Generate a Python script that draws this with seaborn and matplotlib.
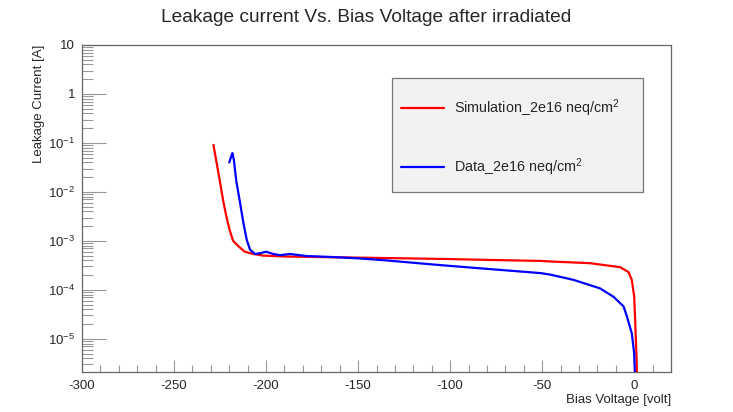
import numpy as np
import pandas as pd
import matplotlib
matplotlib.use("Agg")
import matplotlib.pyplot as plt
from matplotlib.patches import Rectangle
from matplotlib.ticker import FixedLocator, FixedFormatter, LogLocator, NullFormatter, MultipleLocator
import seaborn as sns

# Simulated I-V curve (bias voltage in volt, leakage current in A)
sim_voltage = [-228.6, -227.0, -225.2, -223.4, -221.6, -219.8, -217.9, -215.2, -211.6,
               -207.0, -201.5, -190.0, -175.0, -165.0, -150.0, -125.0, -100.0, -75.0,
               -51.0, -45.7, -23.9, -7.6, -3.1, -1.3, 0.0, 0.5, 1.2, 1.6]
sim_current = [9.1e-2, 4.2e-2, 1.76e-2, 6.9e-3, 3.2e-3, 1.67e-3, 1.0e-3, 7.9e-4, 6.0e-4,
               5.4e-4, 5.0e-4, 4.8e-4, 4.7e-4, 4.64e-4, 4.55e-4, 4.4e-4, 4.25e-4, 4.05e-4,
               3.9e-4, 3.8e-4, 3.5e-4, 2.9e-4, 2.3e-4, 1.6e-4, 7.3e-5, 2.5e-5, 5e-6, 1.5e-6]

# Measured I-V curve
data_voltage = [-220.0, -218.8, -218.3, -217.5, -216.2, -214.1, -212.3, -210.5, -208.7,
                -206.0, -203.3, -200.0, -196.0, -192.4, -187.0, -178.0, -165.0, -150.0,
                -135.0, -105.4, -75.5, -51.0, -45.7, -33.0, -18.5, -11.2, -5.8, -4.0,
                -1.3, 0.0, 0.5]
data_current = [4.0e-2, 5.5e-2, 6.2e-2, 4.5e-2, 1.7e-2, 5.9e-3, 2.3e-3, 1.05e-3, 6.6e-4,
                5.4e-4, 5.6e-4, 6.0e-4, 5.4e-4, 5.1e-4, 5.4e-4, 4.9e-4, 4.7e-4, 4.4e-4,
                4.0e-4, 3.2e-4, 2.6e-4, 2.2e-4, 2.05e-4, 1.6e-4, 1.07e-4, 7.2e-5, 4.6e-5,
                2.9e-5, 1.3e-5, 5e-6, 1.5e-6]

sim_label = "Simulation_2e16 neq/cm$^2$"
data_label = "Data_2e16 neq/cm$^2$"

x_ticks = [-300, -250, -200, -150, -100, -50, 0]
y_ticks = [1e-5, 1e-4, 1e-3, 1e-2, 1e-1, 1, 10]
y_tick_labels = ["$10^{-5}$", "$10^{-4}$", "$10^{-3}$", "$10^{-2}$", "$10^{-1}$", "1", "10"]

sns.set_theme(style="white")
plt.rcParams["font.family"] = ["Liberation Sans", "DejaVu Sans"]
plt.rcParams["mathtext.fontset"] = "custom"
plt.rcParams["mathtext.rm"] = "Liberation Sans"
plt.rcParams["mathtext.it"] = "Liberation Sans:italic"
plt.rcParams["mathtext.default"] = "regular"
plt.rcParams["axes.unicode_minus"] = False

df = pd.concat([
    pd.DataFrame({"voltage": sim_voltage, "current": sim_current, "series": sim_label}),
    pd.DataFrame({"voltage": data_voltage, "current": data_current, "series": data_label}),
], ignore_index=True)

fig = plt.figure(figsize=(7.33, 4.12), dpi=100)
ax = fig.add_axes([82 / 733, 1 - 372 / 412, (671 - 82) / 733, (372 - 45) / 412])

sns.lineplot(data=df, x="voltage", y="current", hue="series", sort=False, estimator=None,
             palette={sim_label: "#ff0000", data_label: "#0000ff"}, linewidth=1.6, ax=ax,
             legend=False)

ax.set_yscale("log")
ax.set_xlim(-300, 20)
ax.set_ylim(2.1e-6, 10)

ax.yaxis.set_major_locator(FixedLocator(y_ticks))
ax.yaxis.set_major_formatter(FixedFormatter(y_tick_labels))
ax.yaxis.set_minor_locator(LogLocator(base=10, subs=np.arange(2, 10), numticks=20))
ax.yaxis.set_minor_formatter(NullFormatter())
ax.xaxis.set_major_locator(FixedLocator(x_ticks))
ax.xaxis.set_minor_locator(MultipleLocator(10))

ax.tick_params(axis="y", which="major", direction="in", length=17, width=0.8,
               color="#999999", labelsize=9.5, pad=5, left=True, right=False)
ax.tick_params(axis="y", which="minor", direction="in", length=8, width=0.8,
               color="#999999", left=True, right=False)
ax.tick_params(axis="x", which="major", direction="in", length=9, width=0.8,
               color="#999999", labelsize=9.5, pad=6, bottom=True, top=False)
ax.tick_params(axis="x", which="minor", direction="in", length=5, width=0.8,
               color="#999999", bottom=True, top=False)

for s in ax.spines.values():
    s.set_color("#666666")
    s.set_linewidth(0.9)

ax.set_xlabel("Bias Voltage [volt]", loc="right", fontsize=9.5, labelpad=1)
ax.set_ylabel("Leakage Current [A]", loc="top", fontsize=9.5, labelpad=2)

fig.text(0.5, 1 - 18 / 412, "Leakage current Vs. Bias Voltage after irradiated",
         ha="center", va="center", fontsize=13.8)

# Legend frame and entries
fig.patches.append(Rectangle((392 / 733, 1 - 192 / 412), (643 - 392) / 733, (192 - 78) / 412,
                             transform=fig.transFigure, facecolor="#f2f2f2",
                             edgecolor="#777777", linewidth=0.9, zorder=3))
handles = [plt.Line2D([], [], color="#ff0000", linewidth=1.6),
           plt.Line2D([], [], color="#0000ff", linewidth=1.6)]
leg = fig.legend(handles, [sim_label, data_label], loc="upper left",
                 bbox_to_anchor=(401 / 733, 1 - 97 / 412), frameon=False, fontsize=10.4,
                 borderpad=0, borderaxespad=0, handlelength=3.0, handletextpad=0.7,
                 labelspacing=2.6)
leg.set_zorder(4)

fig.savefig("out.png", dpi=100)
